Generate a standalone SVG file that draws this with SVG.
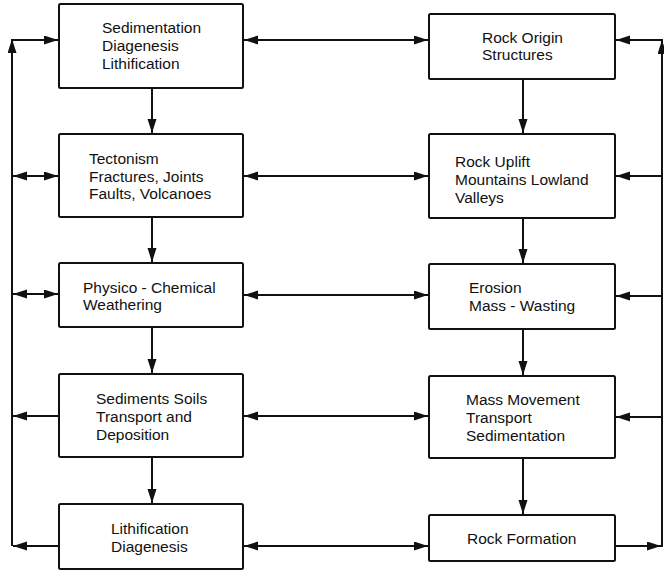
<svg xmlns="http://www.w3.org/2000/svg" width="664" height="571" viewBox="0 0 664 571">
<defs>
<style>
.box{fill:#fff;stroke:#111;stroke-width:2}
.ln{fill:none;stroke:#111;stroke-width:2}
.t{font-family:"Liberation Sans",Arial,Helvetica,sans-serif;font-size:15.5px;fill:#111}
</style>
<marker id="ah" markerUnits="userSpaceOnUse" markerWidth="15" markerHeight="10" refX="14" refY="4.5" orient="auto-start-reverse" viewBox="0 0 15 10">
<path d="M0,0 L14,4.5 L0,9 z" fill="#111"/>
</marker>
</defs>
<rect width="664" height="571" fill="#fff"/>
<g id="connectors">
<!-- left column vertical -->
<line class="ln" x1="152" y1="88" x2="152" y2="133" marker-end="url(#ah)"/>
<line class="ln" x1="152" y1="217" x2="152" y2="262" marker-end="url(#ah)"/>
<line class="ln" x1="152" y1="327" x2="152" y2="373" marker-end="url(#ah)"/>
<line class="ln" x1="152" y1="457" x2="152" y2="503" marker-end="url(#ah)"/>
<!-- right column vertical -->
<line class="ln" x1="523" y1="79" x2="523" y2="133" marker-end="url(#ah)"/>
<line class="ln" x1="523" y1="218" x2="523" y2="263" marker-end="url(#ah)"/>
<line class="ln" x1="523" y1="329" x2="523" y2="375" marker-end="url(#ah)"/>
<line class="ln" x1="523" y1="458" x2="523" y2="514" marker-end="url(#ah)"/>
<!-- middle double arrows -->
<line class="ln" x1="244" y1="40" x2="428" y2="40" marker-start="url(#ah)" marker-end="url(#ah)"/>
<line class="ln" x1="244" y1="176" x2="428" y2="176" marker-start="url(#ah)" marker-end="url(#ah)"/>
<line class="ln" x1="244" y1="295" x2="428" y2="295" marker-start="url(#ah)" marker-end="url(#ah)"/>
<line class="ln" x1="244" y1="416" x2="428" y2="416" marker-start="url(#ah)" marker-end="url(#ah)"/>
<line class="ln" x1="244" y1="546" x2="428" y2="546" marker-start="url(#ah)" marker-end="url(#ah)"/>
<!-- left feedback line -->
<line class="ln" x1="12" y1="546" x2="12" y2="39" marker-end="url(#ah)"/>
<line class="ln" x1="11" y1="40" x2="58" y2="40" marker-end="url(#ah)"/>
<line class="ln" x1="13" y1="176" x2="58" y2="176" marker-start="url(#ah)" marker-end="url(#ah)"/>
<line class="ln" x1="13" y1="294" x2="58" y2="294" marker-start="url(#ah)" marker-end="url(#ah)"/>
<line class="ln" x1="59" y1="416" x2="13" y2="416" marker-end="url(#ah)"/>
<line class="ln" x1="59" y1="546" x2="13" y2="546" marker-end="url(#ah)"/>
<!-- right feedback line -->
<line class="ln" x1="662" y1="547" x2="662" y2="40" marker-end="url(#ah)"/>
<line class="ln" x1="663" y1="40" x2="616" y2="40" marker-end="url(#ah)"/>
<line class="ln" x1="662" y1="176" x2="616" y2="176" marker-end="url(#ah)"/>
<line class="ln" x1="662" y1="296" x2="616" y2="296" marker-end="url(#ah)"/>
<line class="ln" x1="662" y1="417" x2="616" y2="417" marker-end="url(#ah)"/>
<line class="ln" x1="615" y1="546" x2="661" y2="546" marker-end="url(#ah)"/>
</g>
<g id="n-sedimentation">
<rect class="box" x="59" y="4" width="184" height="84" rx="1.5"/>
<text class="t" x="102" y="33">Sedimentation</text>
<text class="t" x="102" y="51">Diagenesis</text>
<text class="t" x="102" y="68.5">Lithification</text>
</g>
<g id="n-tectonism">
<rect class="box" x="59" y="134" width="184" height="83" rx="1.5"/>
<text class="t" x="89" y="164">Tectonism</text>
<text class="t" x="89" y="181.5">Fractures, Joints</text>
<text class="t" x="89" y="199">Faults, Volcanoes</text>
</g>
<g id="n-weathering">
<rect class="box" x="59" y="263" width="184" height="64" rx="1.5"/>
<text class="t" x="83" y="292.5">Physico - Chemical</text>
<text class="t" x="83" y="310">Weathering</text>
</g>
<g id="n-sediments">
<rect class="box" x="59" y="374" width="184" height="83" rx="1.5"/>
<text class="t" x="96" y="404">Sediments Soils</text>
<text class="t" x="96" y="422">Transport and</text>
<text class="t" x="96" y="440">Deposition</text>
</g>
<g id="n-lithification">
<rect class="box" x="59" y="504" width="184" height="65" rx="1.5"/>
<text class="t" x="111" y="534">Lithification</text>
<text class="t" x="111" y="551.5">Diagenesis</text>
</g>
<g id="n-rock-origin">
<rect class="box" x="429" y="14" width="186" height="65" rx="1.5"/>
<text class="t" x="482" y="42.5">Rock Origin</text>
<text class="t" x="482" y="60">Structures</text>
</g>
<g id="n-rock-uplift">
<rect class="box" x="429" y="134" width="186" height="84" rx="1.5"/>
<text class="t" x="455" y="167">Rock Uplift</text>
<text class="t" x="455" y="185">Mountains Lowland</text>
<text class="t" x="455" y="202.5">Valleys</text>
</g>
<g id="n-erosion">
<rect class="box" x="429" y="264" width="186" height="65" rx="1.5"/>
<text class="t" x="469" y="293">Erosion</text>
<text class="t" x="469" y="311">Mass - Wasting</text>
</g>
<g id="n-mass-movement">
<rect class="box" x="429" y="376" width="186" height="82" rx="1.5"/>
<text class="t" x="466" y="405">Mass Movement</text>
<text class="t" x="466" y="423">Transport</text>
<text class="t" x="466" y="441">Sedimentation</text>
</g>
<g id="n-rock-formation">
<rect class="box" x="429" y="515" width="186" height="46" rx="1.5"/>
<text class="t" x="467" y="543.5">Rock Formation</text>
</g>
</svg>
